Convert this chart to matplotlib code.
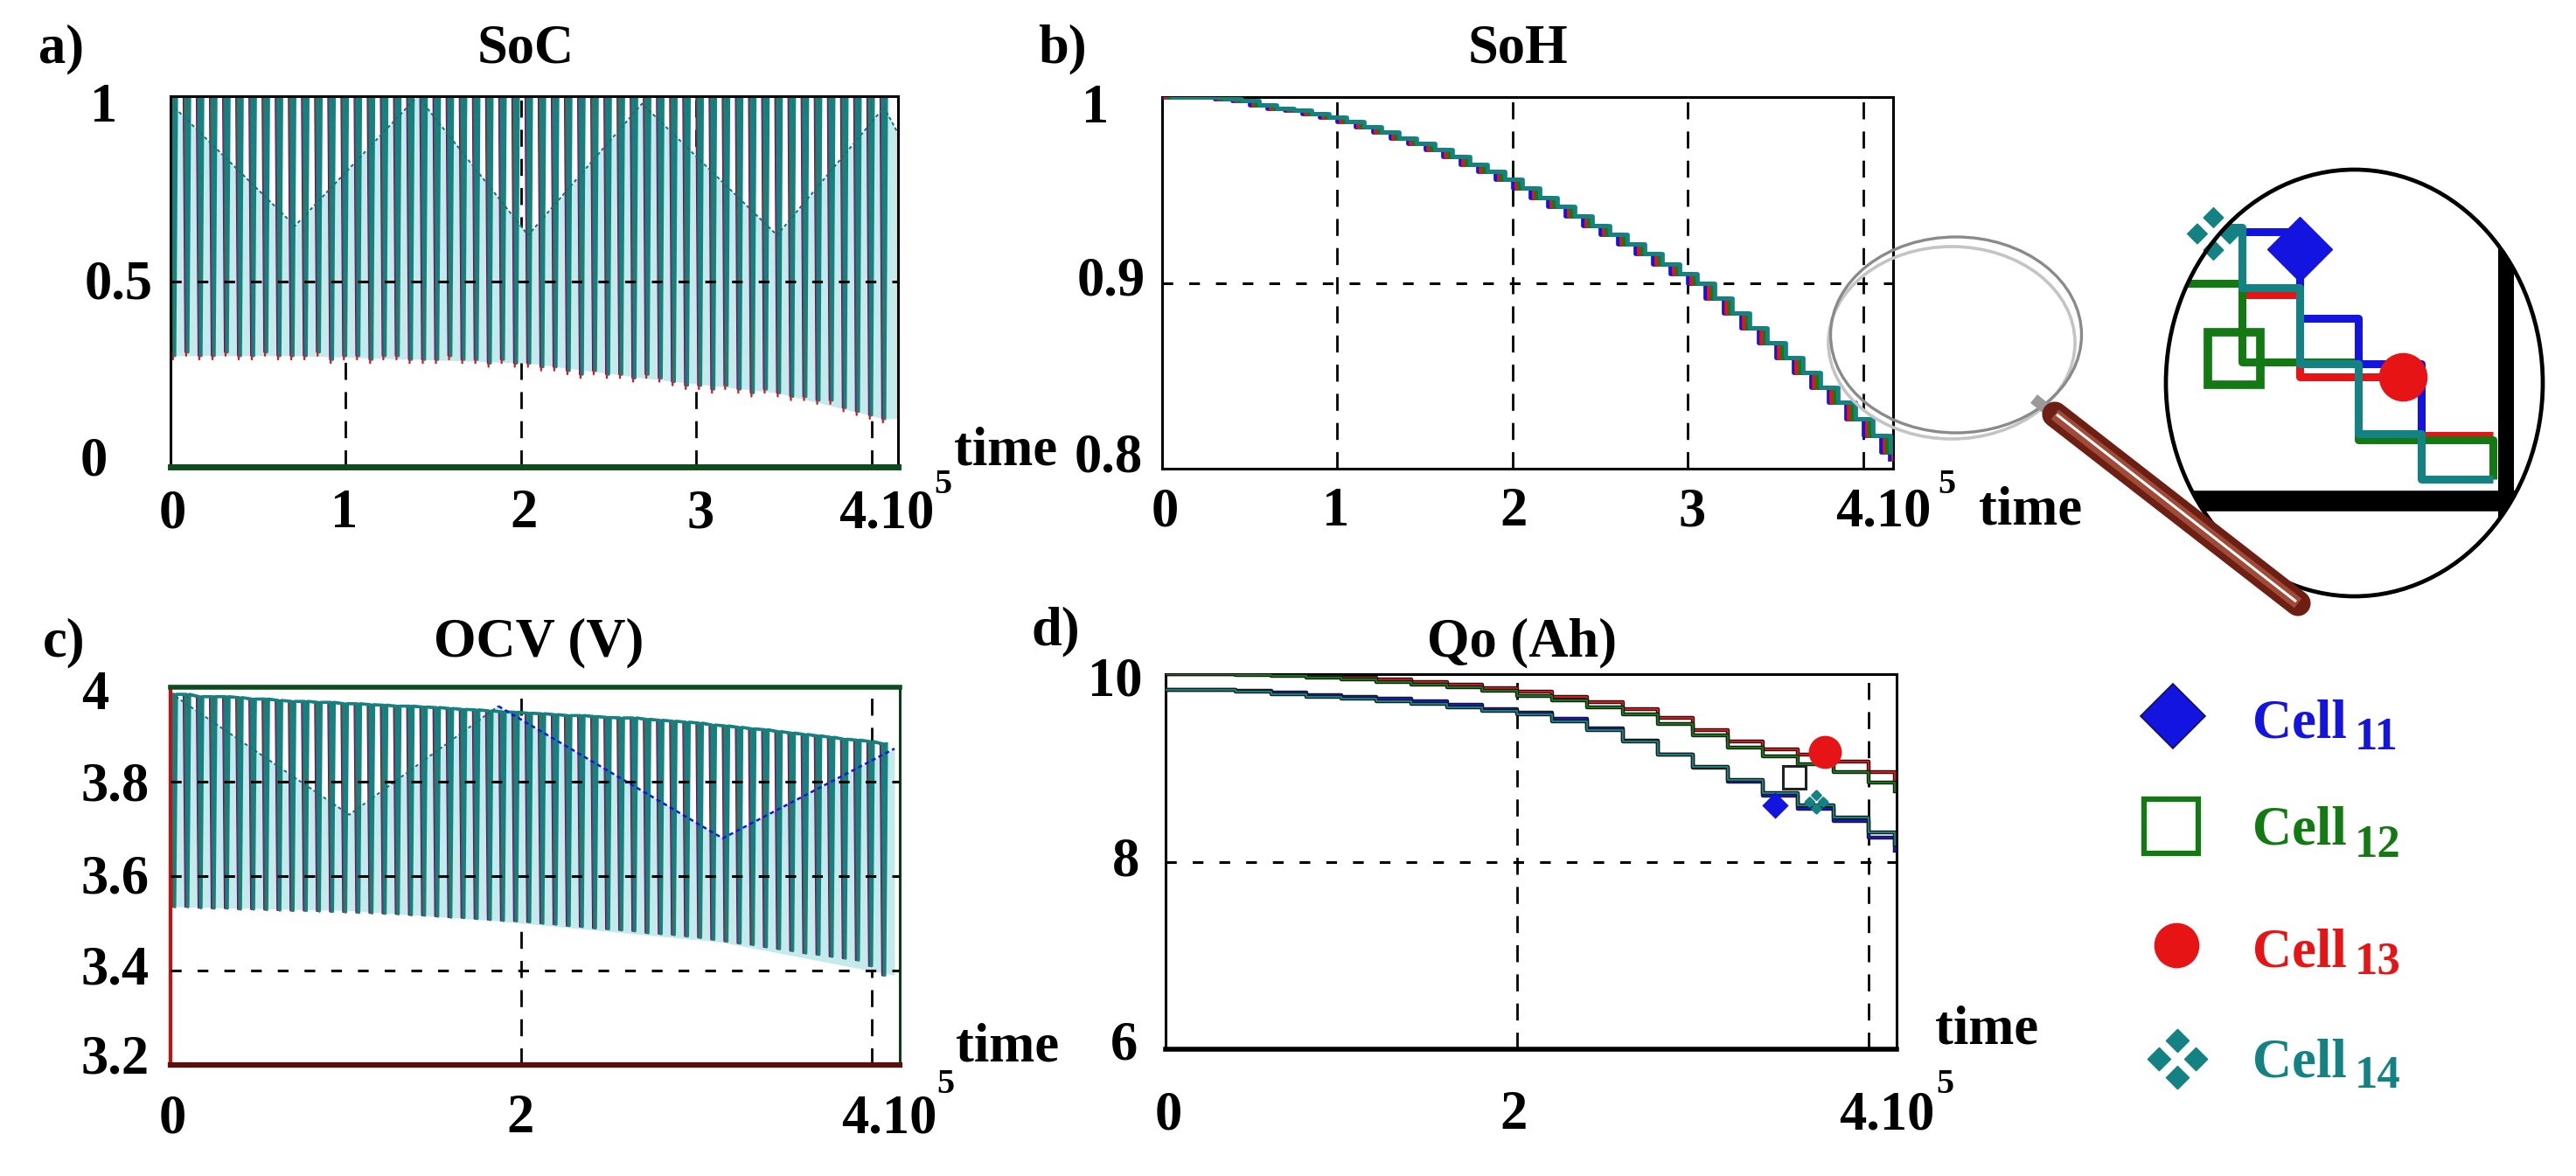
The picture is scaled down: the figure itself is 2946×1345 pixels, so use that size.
import numpy as np
import matplotlib
matplotlib.use("Agg")
import matplotlib.pyplot as plt
from matplotlib.patches import Ellipse
from matplotlib.path import Path

plt.rcParams['font.family'] = ['Liberation Serif', 'DejaVu Serif']
plt.rcParams['font.weight'] = 'bold'

W, H = 2946, 1345

# ---------------- data ----------------
cells = ['11', '13', '12', '14']          # drawing order, teal last (on top)
colors = {'11': '#1414e0', '12': '#137a13', '13': '#e61414', '14': '#148282'}

# charge/discharge cycles (time in 1e5 s)
cycle_t = np.arange(55) * 0.075
soc_min = [0.30, 0.31, 0.30, 0.30, 0.31, 0.30, 0.30, 0.31, 0.30, 0.30,
           0.30, 0.31, 0.29, 0.30, 0.30, 0.29, 0.30, 0.30, 0.29, 0.29,
           0.29, 0.30, 0.29, 0.29, 0.28, 0.29, 0.28, 0.28, 0.27, 0.27,
           0.26, 0.25, 0.26, 0.25, 0.25, 0.24, 0.25, 0.24, 0.23, 0.22,
           0.22, 0.21, 0.22, 0.21, 0.20, 0.21, 0.20, 0.19, 0.19, 0.18,
           0.18, 0.16, 0.15, 0.14, 0.13]
soc_max = [1.0] * 55
soc_dmin = {'11': 0.0, '12': 0.01, '13': -0.01, '14': 0.0}
# envelope of the beat pattern (region under it looks filled)
soc_env_t = [0.0, 0.71, 1.41, 2.04, 2.69, 3.46, 4.07, 4.15]
soc_env_hi = [0.98, 0.65, 1.0, 0.625, 0.98, 0.625, 0.97, 0.90]
soc_env_lo = [0.30, 0.30, 0.29, 0.28, 0.24, 0.20, 0.13, 0.13]

ocv_max = [3.985, 3.985, 3.980, 3.980, 3.980, 3.978, 3.975, 3.975, 3.972, 3.970,
           3.970, 3.968, 3.968, 3.965, 3.965, 3.963, 3.962, 3.960, 3.960, 3.958,
           3.957, 3.955, 3.953, 3.952, 3.950, 3.948, 3.947, 3.945, 3.944, 3.942,
           3.940, 3.940, 3.938, 3.936, 3.935, 3.935, 3.932, 3.930, 3.928, 3.926,
           3.924, 3.920, 3.918, 3.915, 3.912, 3.910, 3.906, 3.903, 3.900, 3.897,
           3.894, 3.890, 3.888, 3.885, 3.880]
ocv_min = [3.535, 3.535, 3.533, 3.532, 3.532, 3.530, 3.530, 3.529, 3.528, 3.527,
           3.527, 3.526, 3.525, 3.524, 3.523, 3.522, 3.521, 3.520, 3.518, 3.517,
           3.515, 3.513, 3.512, 3.510, 3.508, 3.506, 3.505, 3.503, 3.500, 3.498,
           3.495, 3.493, 3.490, 3.488, 3.486, 3.484, 3.480, 3.478, 3.476, 3.473,
           3.470, 3.466, 3.462, 3.458, 3.455, 3.450, 3.446, 3.442, 3.437, 3.434,
           3.430, 3.426, 3.422, 3.410, 3.390]
ocv_env_t = [0.03, 1.02, 1.87, 3.15, 4.13]
ocv_env_hi = [3.98, 3.73, 3.96, 3.68, 3.87]
ocv_env_lo = [3.535, 3.527, 3.505, 3.46, 3.39]
cycle_shift = {'11': 0.0, '13': 0.004, '12': 0.008, '14': 0.014}

# state of health
soh_t = list(np.round(np.arange(42) * 0.1, 2)) + [4.15]
soh_v = [1.000, 1.000, 1.000, 0.999, 0.998, 0.996, 0.994, 0.993, 0.991, 0.989,
         0.987, 0.984, 0.981, 0.978, 0.975, 0.972, 0.968, 0.964, 0.960, 0.956,
         0.951, 0.946, 0.941, 0.936, 0.931, 0.926, 0.921, 0.916, 0.910, 0.905,
         0.900, 0.892, 0.884, 0.876, 0.868, 0.860, 0.852, 0.844, 0.836, 0.827,
         0.818, 0.809, 0.805]
soh_shift = {'11': 0.0, '13': 0.018, '12': 0.036, '14': 0.054}

# capacity Qo (Ah)
qo_t = list(np.round(np.arange(21) * 0.2, 2)) + [4.15]
qo = {
    '13': [10.0, 10.0, 10.0, 9.99, 9.97, 9.96, 9.94, 9.92, 9.89, 9.85, 9.81,
           9.76, 9.70, 9.63, 9.53, 9.40, 9.28, 9.20, 9.14, 9.07, 8.96, 8.87],
    '12': [10.0, 10.0, 9.99, 9.98, 9.96, 9.94, 9.92, 9.89, 9.86, 9.82, 9.77,
           9.72, 9.65, 9.57, 9.47, 9.35, 9.22, 9.12, 9.04, 8.96, 8.84, 8.75],
    '11': [9.83, 9.83, 9.82, 9.80, 9.78, 9.76, 9.74, 9.71, 9.67, 9.63, 9.59,
           9.52, 9.42, 9.29, 9.14, 9.00, 8.85, 8.70, 8.56, 8.43, 8.26, 8.12],
    '14': [9.83, 9.83, 9.81, 9.79, 9.76, 9.74, 9.71, 9.68, 9.65, 9.61, 9.57,
           9.50, 9.40, 9.28, 9.14, 9.01, 8.87, 8.73, 8.60, 8.47, 8.31, 8.18],
}
qo_mark = {'11': (3.47, 8.60), '12': (3.58, 8.90), '13': (3.75, 9.17), '14': (3.70, 8.64)}

# magnified end of the SoH curves
zoom_t = {'13': [4.0348, 4.0622, 4.1198, 4.1538],
          '12': [3.9988, 4.0348, 4.0900, 4.1538],
          '11': [4.0348, 4.0622, 4.0900, 4.1198],
          '14': [4.0211, 4.0348, 4.0622, 4.0900, 4.1198, 4.1538]}
zoom_v = {'13': [0.8095, 0.8057, 0.8030, 0.8030],
          '12': [0.8100, 0.8064, 0.8028, 0.8010],
          '11': [0.8124, 0.8084, 0.8063, 0.8031],
          '14': [0.8126, 0.8098, 0.8063, 0.8031, 0.8010, 0.8010]}
zoom_mark = {'11': (4.0622, 0.8116), '12': (4.0311, 0.80655),
             '13': (4.1111, 0.8057), '14': (4.0211, 0.8123)}


# ---------------- helpers ----------------
def quad_diamond():
    verts, codes = [], []
    for cx, cy in [(0, .62), (.62, 0), (0, -.62), (-.62, 0)]:
        r = .38
        verts += [(cx, cy + r), (cx + r, cy), (cx, cy - r), (cx - r, cy), (cx, cy + r)]
        codes += [Path.MOVETO, Path.LINETO, Path.LINETO, Path.LINETO, Path.CLOSEPOLY]
    return Path(verts, codes)


QUAD = quad_diamond()
markers = {'11': 'D', '12': 's', '13': 'o', '14': QUAD}


def px_axes(l, t, r, b, **kw):
    return fig.add_axes([l / W, 1 - b / H, (r - l) / W, (b - t) / H], **kw)


def stripes(t0, lo, hi, shift, half=0.01):
    xs, ys = [], []
    for t, a, b in zip(t0, lo, hi):
        xs += [t + shift, t + shift + half, t + shift + 2 * half]
        ys += [b, a, b]
    return xs, ys


def vgrid(ax, xs):
    for x in xs:
        ax.axvline(x, color='k', lw=2.0, ls=(0, (7, 5)), zorder=1)


def hgrid(ax, ys, z=4):
    for y in ys:
        ax.axhline(y, color='k', lw=2.2, ls=(0, (4, 6)), zorder=z)


def frame(ax, lw=2.2):
    ax.set_xticks([])
    ax.set_yticks([])
    for s in ax.spines.values():
        s.set_linewidth(lw)
        s.set_color('k')


fig = plt.figure(figsize=(W / 100, H / 100), dpi=100)

# ---------------- a) SoC ----------------
ax_a = px_axes(195, 110, 1027, 534)
ax_a.set_xlim(0, 4.15)
ax_a.set_ylim(0, 1)
frame(ax_a)
vgrid(ax_a, [1, 2, 3, 4])
ax_a.fill_between(soc_env_t, soc_env_lo, soc_env_hi, color='#c4eaea', lw=0, zorder=1.5)
ax_a.plot(soc_env_t, soc_env_hi, color='#1d6e6e', lw=1.4, ls=(0, (2, 1.5)), zorder=2.5)
for c in cells:
    lo = [m + soc_dmin[c] for m in soc_min]
    xs, ys = stripes(cycle_t, lo, soc_max, cycle_shift[c])
    ax_a.plot(xs, ys, color=colors[c], lw=2.6 if c == '14' else 1.6, zorder=2)
hgrid(ax_a, [0.5])
ax_a.spines['bottom'].set_color('#0b4d1c')
ax_a.spines['bottom'].set_linewidth(5)

# ---------------- b) SoH ----------------
ax_b = px_axes(1329, 111, 2165, 536)
ax_b.set_xlim(0, 4.17)
ax_b.set_ylim(0.8, 1.0)
frame(ax_b)
vgrid(ax_b, [1, 2, 3, 4])
hgrid(ax_b, [0.9], z=1)
for c in cells:
    ax_b.plot([t + soh_shift[c] for t in soh_t], soh_v, drawstyle='steps-post',
              color=colors[c], lw=3.4, zorder=3)

# ---------------- c) OCV ----------------
ax_c = px_axes(195, 786, 1029, 1218)
ax_c.set_xlim(0, 4.16)
ax_c.set_ylim(3.2, 4.0)
frame(ax_c)
vgrid(ax_c, [2, 4])
ax_c.fill_between(ocv_env_t, ocv_env_lo, ocv_env_hi, color='#c4eaea', lw=0, zorder=1.5)
ax_c.plot(ocv_env_t[:3], ocv_env_hi[:3], color='#1d6e6e', lw=1.4, ls=(0, (2, 1.5)), zorder=2.5)
ax_c.plot(ocv_env_t[2:], ocv_env_hi[2:], color=colors['11'], lw=1.8, ls=(0, (2, 1.5)), zorder=2.5)
for c in cells:
    xs, ys = stripes(cycle_t, ocv_min, ocv_max, cycle_shift[c])
    ax_c.plot(xs, ys, color=colors[c], lw=2.6 if c == '14' else 1.6, zorder=2)
hgrid(ax_c, [3.4, 3.6, 3.8])
ax_c.spines['bottom'].set_color('#5a0f0f')
ax_c.spines['bottom'].set_linewidth(4.5)
ax_c.spines['left'].set_color('#c81010')
ax_c.spines['left'].set_linewidth(3)
ax_c.spines['top'].set_color('#0b4d1c')
ax_c.spines['top'].set_linewidth(4)
ax_c.spines['right'].set_color('#0b3d1c')

# ---------------- d) Qo ----------------
ax_d = px_axes(1333, 771, 2169, 1200)
ax_d.set_xlim(0, 4.16)
ax_d.set_ylim(6, 10)
frame(ax_d)
ax_d.spines['bottom'].set_linewidth(4)
vgrid(ax_d, [2, 4])
hgrid(ax_d, [8], z=1)
for c in cells:
    ax_d.plot(qo_t, qo[c], drawstyle='steps-post', color='#1a1a1a', lw=3.2, zorder=3)
    ax_d.plot(qo_t, qo[c], drawstyle='steps-post', color=colors[c], lw=1.4, zorder=3)
d_ms = {'11': 13, '12': 19, '13': 25, '14': 18}
for c in ['11', '12', '13', '14']:
    x, y = qo_mark[c]
    face = 'none' if c == '12' else colors[c]
    ax_d.plot([x], [y], marker=markers[c], ms=d_ms[c], mfc=face,
              mec='#222222' if c == '12' else colors[c], mew=2.2, zorder=5,
              clip_on=False, ls='none')

# ---------------- magnified view ----------------
ax_z = px_axes(2477, 194, 2908, 682)
ax_z.set_xlim(3.9988, 4.1775)
ax_z.set_ylim(0.79562, 0.81524)
ax_z.axis('off')
ell = Ellipse((0.5, 0.5), 1, 1, transform=ax_z.transAxes, fill=False,
              ec='k', lw=3.4, zorder=8)
ax_z.add_patch(ell)
ell.set_clip_on(False)
clip_ell = Ellipse((0.5, 0.5), 1, 1, transform=ax_z.transAxes)
for art in [ax_z.axvline(4.160, color='k', lw=13, zorder=2),
            ax_z.axhline(0.800, color='k', lw=17, zorder=2)]:
    art.set_clip_path(clip_ell)
for c in ['13', '12', '11', '14']:
    ln, = ax_z.plot(zoom_t[c], zoom_v[c], drawstyle='steps-post',
                    color=colors[c], lw=6.5, zorder=3, solid_capstyle='butt')
    ln.set_clip_path(clip_ell)
z_ms = {'11': 38, '12': 43, '13': 39, '14': 43}
for c in ['12', '13', '11', '14']:
    x, y = zoom_mark[c]
    face = 'none' if c == '12' else colors[c]
    ax_z.plot([x], [y], marker=markers[c], ms=z_ms[c], mfc=face,
              mec=colors[c], mew=7 if c == '12' else 1, ls='none',
              zorder=6, clip_on=False)

# ---------------- overlay: labels, legend, magnifier ----------------
lay = fig.add_axes([0, 0, 1, 1], zorder=10)
lay.set_xlim(0, W)
lay.set_ylim(H, 0)
lay.axis('off')


def txt(x, y, s, size=45, color='k', ha='center'):
    lay.text(x, y, s, fontsize=size, color=color, ha=ha, va='baseline',
             fontweight='bold', family=['Liberation Serif', 'DejaVu Serif'])


# panel letters and titles
txt(70, 71, 'a)')
txt(601, 71, 'SoC')
txt(1215, 71, 'b)')
txt(1736, 71, 'SoH')
txt(73, 750, 'c)')
txt(616, 750, 'OCV (V)')
txt(1207, 737, 'd)')
txt(1741, 750, 'Qo (Ah)')

# tick labels (x, baseline, text)
tick_labels = [
    # a
    (119, 139, '1'), (136, 341, '0.5'), (107, 543, '0'),
    (197, 603, '0'), (394, 603, '1'), (599, 603, '2'), (801, 603, '3'),
    (1014, 603, '4.10'),
    # b
    (1253, 140, '1'), (1271, 338, '0.9'), (1268, 540, '0.8'),
    (1332, 601, '0'), (1528, 601, '1'), (1731, 601, '2'), (1935, 601, '3'),
    (2154, 601, '4.10'),
    # c
    (109, 811, '4'), (132, 915, '3.8'), (132, 1021, '3.6'), (132, 1125, '3.4'),
    (132, 1227, '3.2'),
    (197, 1295, '0'), (595, 1295, '2'), (1017, 1295, '4.10'),
    # d
    (1275, 795, '10'), (1288, 1002, '8'), (1286, 1212, '6'),
    (1336, 1291, '0'), (1731, 1291, '2'), (2158, 1291, '4.10'),
]
for x, y, s in tick_labels:
    txt(x, y, s)
for x, y in [(1078, 564), (2226, 564), (1081, 1250), (2224, 1250)]:
    txt(x, y, '5', size=29)
for x, y in [(1150, 532), (2322, 600), (1152, 1214), (2272, 1194)]:
    txt(x, y, 'time')

# legend
leg_y = {'11': 819, '12': 945, '13': 1081, '14': 1211}
leg_x = {'11': 2485, '12': 2483, '13': 2489, '14': 2490}
leg_base = {'11': (844, 857), '12': (966, 980), '13': (1106, 1114), '14': (1232, 1244)}
leg_ms = {'11': 38, '12': 44, '13': 36, '14': 49}
for c in ['11', '12', '13', '14']:
    face = 'none' if c == '12' else colors[c]
    lay.plot([leg_x[c]], [leg_y[c]], marker=markers[c], ms=leg_ms[c], mfc=face,
             mec='#101060' if c == '11' else colors[c], mew=4.5 if c == '12' else 1.2,
             ls='none')
    b1, b2 = leg_base[c]
    txt(2576, b1, 'Cell', color=colors[c], ha='left')
    txt(2693, b2, c, size=38, color=colors[c], ha='left')

# magnifying glass
lay.add_patch(Ellipse((2232, 392), 282, 220, fill=False, ec='#c4c4c4', lw=2.6))
lay.add_patch(Ellipse((2237, 383), 287, 224, fill=False, ec='#8a8a8a', lw=2.4))
lay.plot([2326, 2352], [456, 477], color='#9a9a9a', lw=9, solid_capstyle='butt')
lay.plot([2350, 2628], [474, 690], color='#6e1f14', lw=21, solid_capstyle='round')
lay.plot([2350, 2628], [474, 690], color='#a04a38', lw=10, solid_capstyle='butt')
lay.plot([2352, 2626], [474, 688], color='white', lw=2.2, solid_capstyle='butt')

fig.savefig('out.png', dpi=100)
